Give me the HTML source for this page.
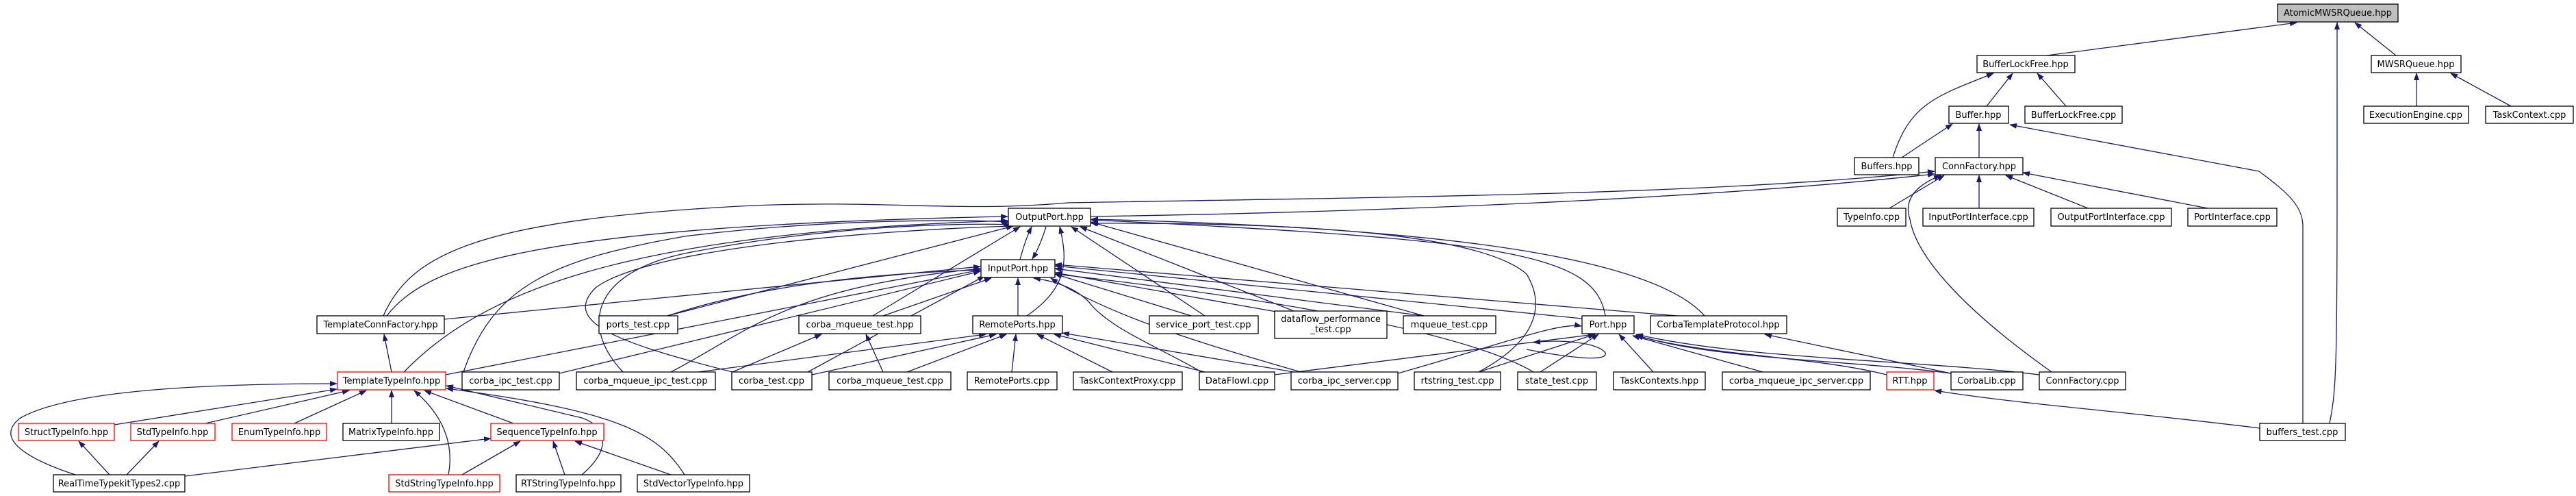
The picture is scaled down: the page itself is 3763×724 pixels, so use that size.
<!DOCTYPE html>
<html><head><meta charset="utf-8"><style>
html,body{margin:0;padding:0;background:#fff;}
svg{display:block}
text{font-family:"DejaVu Sans","Liberation Sans",sans-serif;font-size:13px;fill:#000;text-anchor:middle}
rect{fill:#fff;stroke:#000;stroke-width:1.3}
rect.r{stroke:#f00}
path{fill:none;stroke:#191970;stroke-width:1.3}
</style></head><body>
<svg width="3763" height="724" viewBox="0 0 3763 724" xmlns="http://www.w3.org/2000/svg">
<defs><marker id="a" markerWidth="11" markerHeight="8" refX="10" refY="4" orient="auto" markerUnits="userSpaceOnUse"><path d="M0,0 L11,4 L0,8z" style="fill:#191970;stroke:none"/></marker></defs>
<g marker-end="url(#a)">
<path d="M2990,81 L3355,33"/>
<path d="M3500,81 L3440,33"/>
<path d="M3403,618 C3415,560 3414,520 3414,33"/>
<path d="M2902,155 L2940,107"/>
<path d="M3018,155 L2976,107"/>
<path d="M2765,230 C2790,150 2830,140 2912,107"/>
<path d="M3530,155 L3530,107"/>
<path d="M3668,155 L3580,107"/>
<path d="M2778,230 L2852,181"/>
<path d="M2891,230 L2891,181"/>
<path d="M3364,618 L3364,330 C3364,300 3340,280 3300,250 L2936,182"/>
<path d="M1593,316 C2000,310 2500,290 2826,254"/>
<path d="M560,461 C600,370 700,320 1100,300 C1300,292 1400,310 1560,296 C2000,288 2500,285 2826,250"/>
<path d="M2760,304 L2840,256"/>
<path d="M2891,304 L2891,256"/>
<path d="M3050,304 L2930,256"/>
<path d="M3225,304 L2955,252"/>
<path d="M2997,543 C2880,460 2800,380 2790,320 C2780,290 2800,270 2835,256"/>
<path d="M1490,379 C1495,360 1500,345 1507,331"/>
<path d="M1528,331 C1522,350 1516,365 1508,378"/>
<path d="M565,461 C620,390 760,330 1472,316"/>
<path d="M590,543 C700,430 900,340 1472,322"/>
<path d="M649,466 L1432,389"/>
<path d="M651,547 L1432,394"/>
<path d="M677,543 C720,420 800,380 1000,345 C1200,320 1400,320 1474,324"/>
<path d="M817,545 L1432,396"/>
<path d="M910,543 C850,480 860,400 1000,370 C1200,330 1400,325 1476,328"/>
<path d="M980,543 C1100,480 1150,420 1432,392"/>
<path d="M1070,543 L1200,488"/>
<path d="M1020,543 L1440,488"/>
<path d="M1070,543 C900,500 820,470 870,420 C950,360 1300,335 1480,330"/>
<path d="M1180,543 L1438,403"/>
<path d="M1186,547 L1455,488"/>
<path d="M975,461 L1480,330"/>
<path d="M975,461 C1100,420 1250,400 1432,394"/>
<path d="M1275,461 L1490,331"/>
<path d="M1290,461 L1448,406"/>
<path d="M1290,543 L1265,488"/>
<path d="M1325,543 L1470,488"/>
<path d="M1487,461 L1487,406"/>
<path d="M1500,461 C1560,420 1560,380 1548,331"/>
<path d="M1478,543 L1484,488"/>
<path d="M1625,543 L1515,488"/>
<path d="M1760,543 L1540,488"/>
<path d="M1755,543 C1700,510 1620,480 1590,440 C1570,420 1540,410 1510,406"/>
<path d="M1862,547 L2330,488"/>
<path d="M1890,543 L1552,486"/>
<path d="M1900,543 C1750,500 1620,460 1535,406"/>
<path d="M2042,545 C2200,500 2280,470 2310,476"/>
<path d="M1740,461 L1541,400"/>
<path d="M1760,461 L1565,331"/>
<path d="M1890,454 L1578,331"/>
<path d="M1870,456 L1541,398"/>
<path d="M2080,461 L1593,324"/>
<path d="M2080,461 L1541,392"/>
<path d="M2345,461 C2330,370 2200,350 1594,321"/>
<path d="M2311,465 L1541,388"/>
<path d="M2490,461 C2400,360 2000,330 1594,320"/>
<path d="M2450,461 L1541,386"/>
<path d="M2160,543 C2240,500 2260,450 2230,400 C2150,330 1800,325 1594,326"/>
<path d="M2160,543 L2330,488"/>
<path d="M2250,543 L2335,488"/>
<path d="M2240,543 C2150,490 1900,440 1541,400"/>
<path d="M2230,510 C2280,520 2350,530 2345,515 C2335,500 2280,495 2240,500"/>
<path d="M2415,543 L2365,488"/>
<path d="M2575,543 L2385,490"/>
<path d="M2756,547 C2650,520 2500,520 2390,490"/>
<path d="M2850,545 C2700,525 2500,525 2390,489"/>
<path d="M2850,545 L2578,488"/>
<path d="M2979,547 C2800,525 2550,525 2390,488"/>
<path d="M3301,625 C3100,600 2950,590 2826,570"/>
<path d="M572,543 L561,488"/>
<path d="M167,620 L492,568"/>
<path d="M300,618 L510,570"/>
<path d="M430,618 L535,570"/>
<path d="M572,618 L572,570"/>
<path d="M750,618 L620,570"/>
<path d="M1000,693 C960,630 900,600 652,567"/>
<path d="M850,693 C900,650 880,620 850,610 L652,563"/>
<path d="M655,693 C665,640 640,600 605,570"/>
<path d="M110,693 C40,670 -10,640 30,610 C100,570 300,560 492,560"/>
<path d="M160,693 L115,644"/>
<path d="M185,693 L232,644"/>
<path d="M270,695 L717,640"/>
<path d="M675,693 L760,644"/>
<path d="M825,693 L808,644"/>
<path d="M980,693 L840,644"/>
</g>
<g>
<rect x="3327" y="6" width="176" height="26" style="fill:#bfbfbf"/><text x="3415" y="23">AtomicMWSRQueue.hpp</text>
<rect x="2888" y="81" width="143" height="25"/><text x="2959" y="98">BufferLockFree.hpp</text>
<rect x="3464" y="81" width="131" height="25"/><text x="3529" y="98">MWSRQueue.hpp</text>
<rect x="2847" y="155" width="87" height="25"/><text x="2890" y="172">Buffer.hpp</text>
<rect x="2958" y="155" width="142" height="25"/><text x="3029" y="172">BufferLockFree.cpp</text>
<rect x="3453" y="155" width="153" height="25"/><text x="3529" y="172">ExecutionEngine.cpp</text>
<rect x="3631" y="155" width="128" height="25"/><text x="3695" y="172">TaskContext.cpp</text>
<rect x="2709" y="230" width="94" height="25"/><text x="2756" y="247">Buffers.hpp</text>
<rect x="2827" y="230" width="128" height="25"/><text x="2891" y="247">ConnFactory.hpp</text>
<rect x="1473" y="304" width="120" height="26"/><text x="1533" y="321">OutputPort.hpp</text>
<rect x="2684" y="304" width="100" height="26"/><text x="2734" y="321">TypeInfo.cpp</text>
<rect x="2809" y="304" width="162" height="26"/><text x="2890" y="321">InputPortInterface.cpp</text>
<rect x="2996" y="304" width="176" height="26"/><text x="3084" y="321">OutputPortInterface.cpp</text>
<rect x="3196" y="304" width="130" height="26"/><text x="3261" y="321">PortInterface.cpp</text>
<rect x="1433" y="379" width="108" height="26"/><text x="1487" y="396">InputPort.hpp</text>
<rect x="463" y="461" width="186" height="26"/><text x="556" y="478">TemplateConnFactory.hpp</text>
<rect x="875" y="461" width="115" height="26"/><text x="932" y="478">ports_test.cpp</text>
<rect x="1167" y="461" width="178" height="26"/><text x="1256" y="478">corba_mqueue_test.hpp</text>
<rect x="1421" y="461" width="131" height="26"/><text x="1486" y="478">RemotePorts.hpp</text>
<rect x="1679" y="461" width="159" height="26"/><text x="1758" y="478">service_port_test.cpp</text>
<rect x="1862" y="454" width="164" height="40"/><text x="1944" y="470">dataflow_performance</text><text x="1944" y="485">_test.cpp</text>
<rect x="2050" y="461" width="135" height="26"/><text x="2117" y="478">mqueue_test.cpp</text>
<rect x="2311" y="461" width="76" height="26"/><text x="2349" y="478">Port.hpp</text>
<rect x="2411" y="461" width="199" height="26"/><text x="2510" y="478">CorbaTemplateProtocol.hpp</text>
<rect class="r" x="493" y="543" width="158" height="26"/><text x="572" y="560">TemplateTypeInfo.hpp</text>
<rect x="675" y="543" width="142" height="26"/><text x="746" y="560">corba_ipc_test.cpp</text>
<rect x="842" y="543" width="203" height="26"/><text x="943" y="560">corba_mqueue_ipc_test.cpp</text>
<rect x="1069" y="543" width="117" height="26"/><text x="1127" y="560">corba_test.cpp</text>
<rect x="1211" y="543" width="178" height="26"/><text x="1300" y="560">corba_mqueue_test.cpp</text>
<rect x="1413" y="543" width="131" height="26"/><text x="1478" y="560">RemotePorts.cpp</text>
<rect x="1568" y="543" width="159" height="26"/><text x="1647" y="560">TaskContextProxy.cpp</text>
<rect x="1752" y="543" width="110" height="26"/><text x="1807" y="560">DataFlowI.cpp</text>
<rect x="1886" y="543" width="156" height="26"/><text x="1964" y="560">corba_ipc_server.cpp</text>
<rect x="2066" y="543" width="126" height="26"/><text x="2129" y="560">rtstring_test.cpp</text>
<rect x="2217" y="543" width="115" height="26"/><text x="2274" y="560">state_test.cpp</text>
<rect x="2357" y="543" width="134" height="26"/><text x="2424" y="560">TaskContexts.hpp</text>
<rect x="2516" y="543" width="216" height="26"/><text x="2624" y="560">corba_mqueue_ipc_server.cpp</text>
<rect class="r" x="2756" y="543" width="69" height="26"/><text x="2790" y="560">RTT.hpp</text>
<rect x="2850" y="543" width="105" height="26"/><text x="2902" y="560">CorbaLib.cpp</text>
<rect x="2979" y="543" width="126" height="26"/><text x="3042" y="560">ConnFactory.cpp</text>
<rect class="r" x="27" y="618" width="140" height="25"/><text x="97" y="635">StructTypeInfo.hpp</text>
<rect class="r" x="191" y="618" width="123" height="25"/><text x="252" y="635">StdTypeInfo.hpp</text>
<rect class="r" x="339" y="618" width="138" height="25"/><text x="408" y="635">EnumTypeInfo.hpp</text>
<rect x="501" y="618" width="141" height="25"/><text x="571" y="635">MatrixTypeInfo.hpp</text>
<rect class="r" x="717" y="618" width="165" height="25"/><text x="799" y="635">SequenceTypeInfo.hpp</text>
<rect x="3301" y="618" width="125" height="25"/><text x="3363" y="635">buffers_test.cpp</text>
<rect x="78" y="693" width="192" height="25"/><text x="174" y="710">RealTimeTypekitTypes2.cpp</text>
<rect class="r" x="568" y="693" width="162" height="25"/><text x="649" y="710">StdStringTypeInfo.hpp</text>
<rect x="754" y="693" width="153" height="25"/><text x="830" y="710">RTStringTypeInfo.hpp</text>
<rect x="931" y="693" width="164" height="25"/><text x="1013" y="710">StdVectorTypeInfo.hpp</text>
</g>
</svg>
</body></html>
